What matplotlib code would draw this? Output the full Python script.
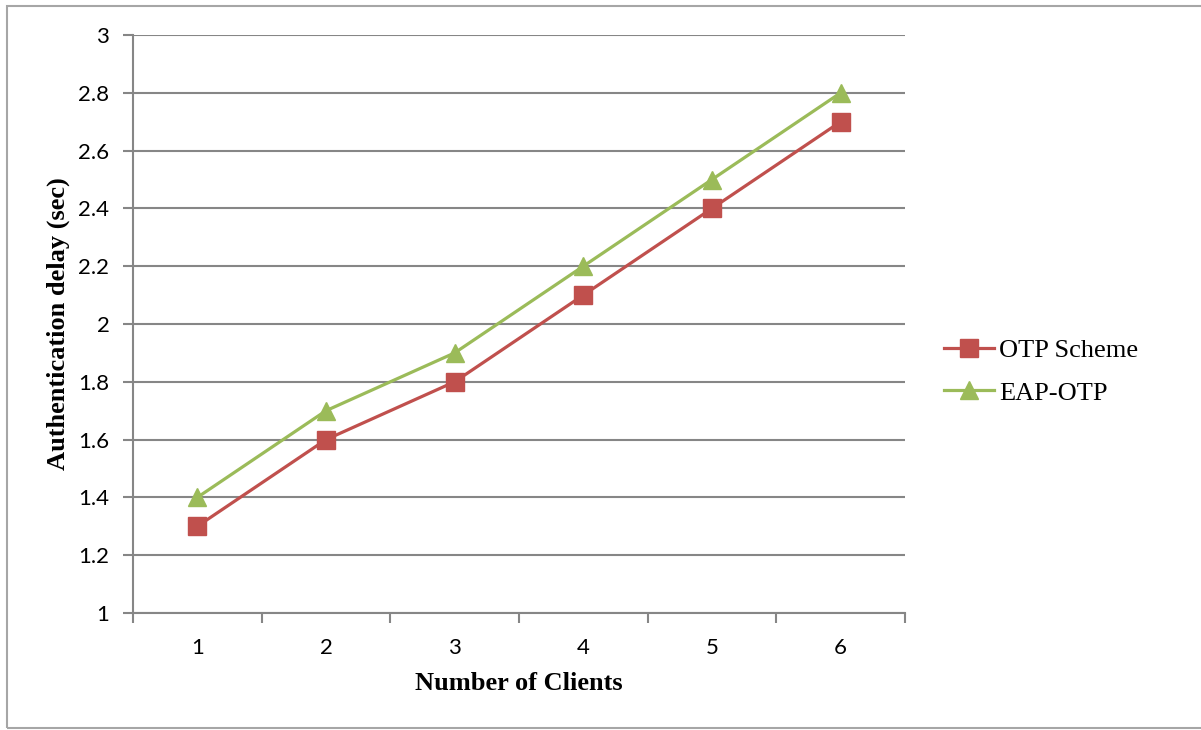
import matplotlib.pyplot as plt
from matplotlib.patches import Rectangle
import numpy as np

clients = [1, 2, 3, 4, 5, 6]
otp_scheme = [1.3, 1.6, 1.8, 2.1, 2.4, 2.7]
eap_otp = [1.4, 1.7, 1.9, 2.2, 2.5, 2.8]
y_ticks = [1, 1.2, 1.4, 1.6, 1.8, 2, 2.2, 2.4, 2.6, 2.8, 3]

grey = '#868686'
red = '#C0504D'
green = '#9BBB59'

fig = plt.figure(figsize=(12.01, 7.30), dpi=100)
ax = fig.add_axes([133/1201, 1 - 613/730, (905-133)/1201, (613-35)/730])

# outer chart border
fig.patches.append(Rectangle((7/1201, 2/730), 1.2, 722/730, transform=fig.transFigure,
                             fill=False, edgecolor='#A6A6A6', lw=1.5))

ax.plot(clients, otp_scheme, color=red, lw=2.3, marker='s', ms=13.5, label='OTP Scheme')
ax.plot(clients, eap_otp, color=green, lw=2.3, marker='^', ms=13, label='EAP-OTP')

ax.set_xlim(0.5, 6.5)
ax.set_ylim(1, 3)
ax.set_yticks(y_ticks)
ax.set_yticklabels(['1', '1.2', '1.4', '1.6', '1.8', '2', '2.2', '2.4', '2.6', '2.8', '3'],
                   fontfamily='Lato')
ax.set_xticks(clients)
ax.set_xticklabels([str(c) for c in clients], fontfamily='Lato')
ax.set_xticks(np.arange(0.5, 7, 1), minor=True)
ax.tick_params(axis='x', which='major', length=0, pad=18, labelsize=16)
ax.tick_params(axis='x', which='minor', length=7, color=grey, width=1.5)
ax.tick_params(axis='y', length=7, color=grey, width=1.5, labelsize=16, pad=10)
ax.grid(axis='y', color=grey, lw=1.5)
ax.set_axisbelow(True)
for s in ['top', 'right']:
    ax.spines[s].set_visible(False)
for s in ['left', 'bottom']:
    ax.spines[s].set_color(grey)
    ax.spines[s].set_linewidth(1.5)

ax.set_xlabel('Number of Clients', fontfamily='Liberation Serif', fontweight='bold', fontsize=19, labelpad=10)
ax.set_ylabel('Authentication delay (sec)', fontfamily='Liberation Serif', fontweight='bold', fontsize=19, labelpad=6)

ax.legend(loc='center left', bbox_to_anchor=(1.0335, 0.418), frameon=False, borderpad=0,
          prop={'family': 'Liberation Serif', 'size': 19}, handlelength=1.9,
          handletextpad=0.2, labelspacing=0.73)

plt.savefig('out.png', dpi=100)
